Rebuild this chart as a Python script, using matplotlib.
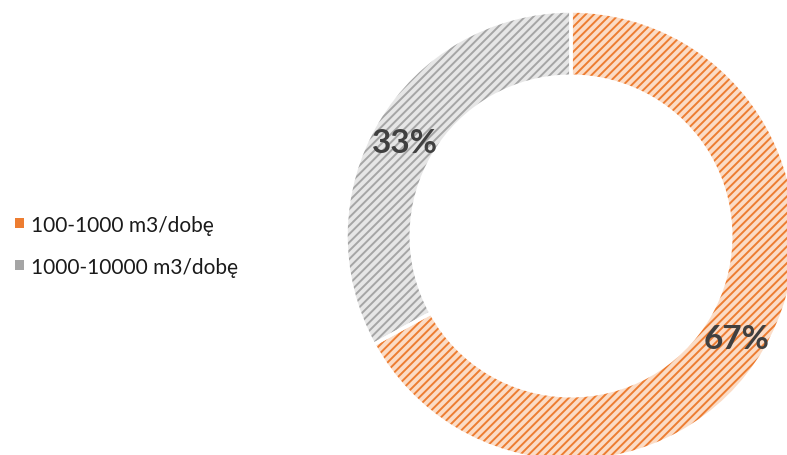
import matplotlib
matplotlib.use("Agg")
import matplotlib.pyplot as plt
from matplotlib.patches import Patch

categories = ['100-1000 m3/dobę', '1000-10000 m3/dobę']
shares = [67, 33]
face_colors = ['#fbdcc6', '#e6e6e6']
hatch_colors = ['#ed7d31', '#a5a5a5']

plt.rcParams['font.family'] = ['Lato', 'DejaVu Sans']
plt.rcParams['hatch.linewidth'] = 1.4

W, H = 787, 456
fig = plt.figure(figsize=(W / 100, H / 100), dpi=100)

# donut centre (571, 237) px, outer radius 225 px
cx, cy, R = 571, 237, 225
ax = fig.add_axes([(cx - R) / W, (H - cy - R) / H, 2 * R / W, 2 * R / H])

# base fill
ax.pie(shares, startangle=90, counterclock=False, radius=1,
       colors=face_colors, wedgeprops=dict(width=0.29, linewidth=0))
# hatch layer (hatch takes the edge colour)
hatched, _ = ax.pie(shares, startangle=90, counterclock=False, radius=1,
                    wedgeprops=dict(width=0.29, linewidth=0, fill=False))
for w, hc in zip(hatched, hatch_colors):
    w.set_hatch('////')
    w.set_edgecolor(hc)
# white separators and labels
_, _, autotexts = ax.pie(
    shares, startangle=90, counterclock=False, radius=1,
    autopct='%1.0f%%', pctdistance=0.855,
    wedgeprops=dict(width=0.29, edgecolor='white', linewidth=2.5, fill=False),
    textprops=dict(fontsize=24, fontweight='bold', color='#404040'))
for t in autotexts:
    x, y = t.get_position()
    t.set_position((x, y - 0.02))
ax.set_xlim(-1, 1)
ax.set_ylim(-1, 1)
ax.set_aspect('equal')
ax.axis('off')

handles = [Patch(facecolor=hc, edgecolor='none') for hc in hatch_colors]
fig.legend(handles, categories, loc='center left', bbox_to_anchor=(0.0, 0.459),
           frameon=False, fontsize=15, handlelength=0.45, handleheight=0.36,
           handletextpad=0.35, labelspacing=1.05, labelcolor='#1a1a1a',
           borderaxespad=0.3)

fig.savefig('out.png', dpi=100)
